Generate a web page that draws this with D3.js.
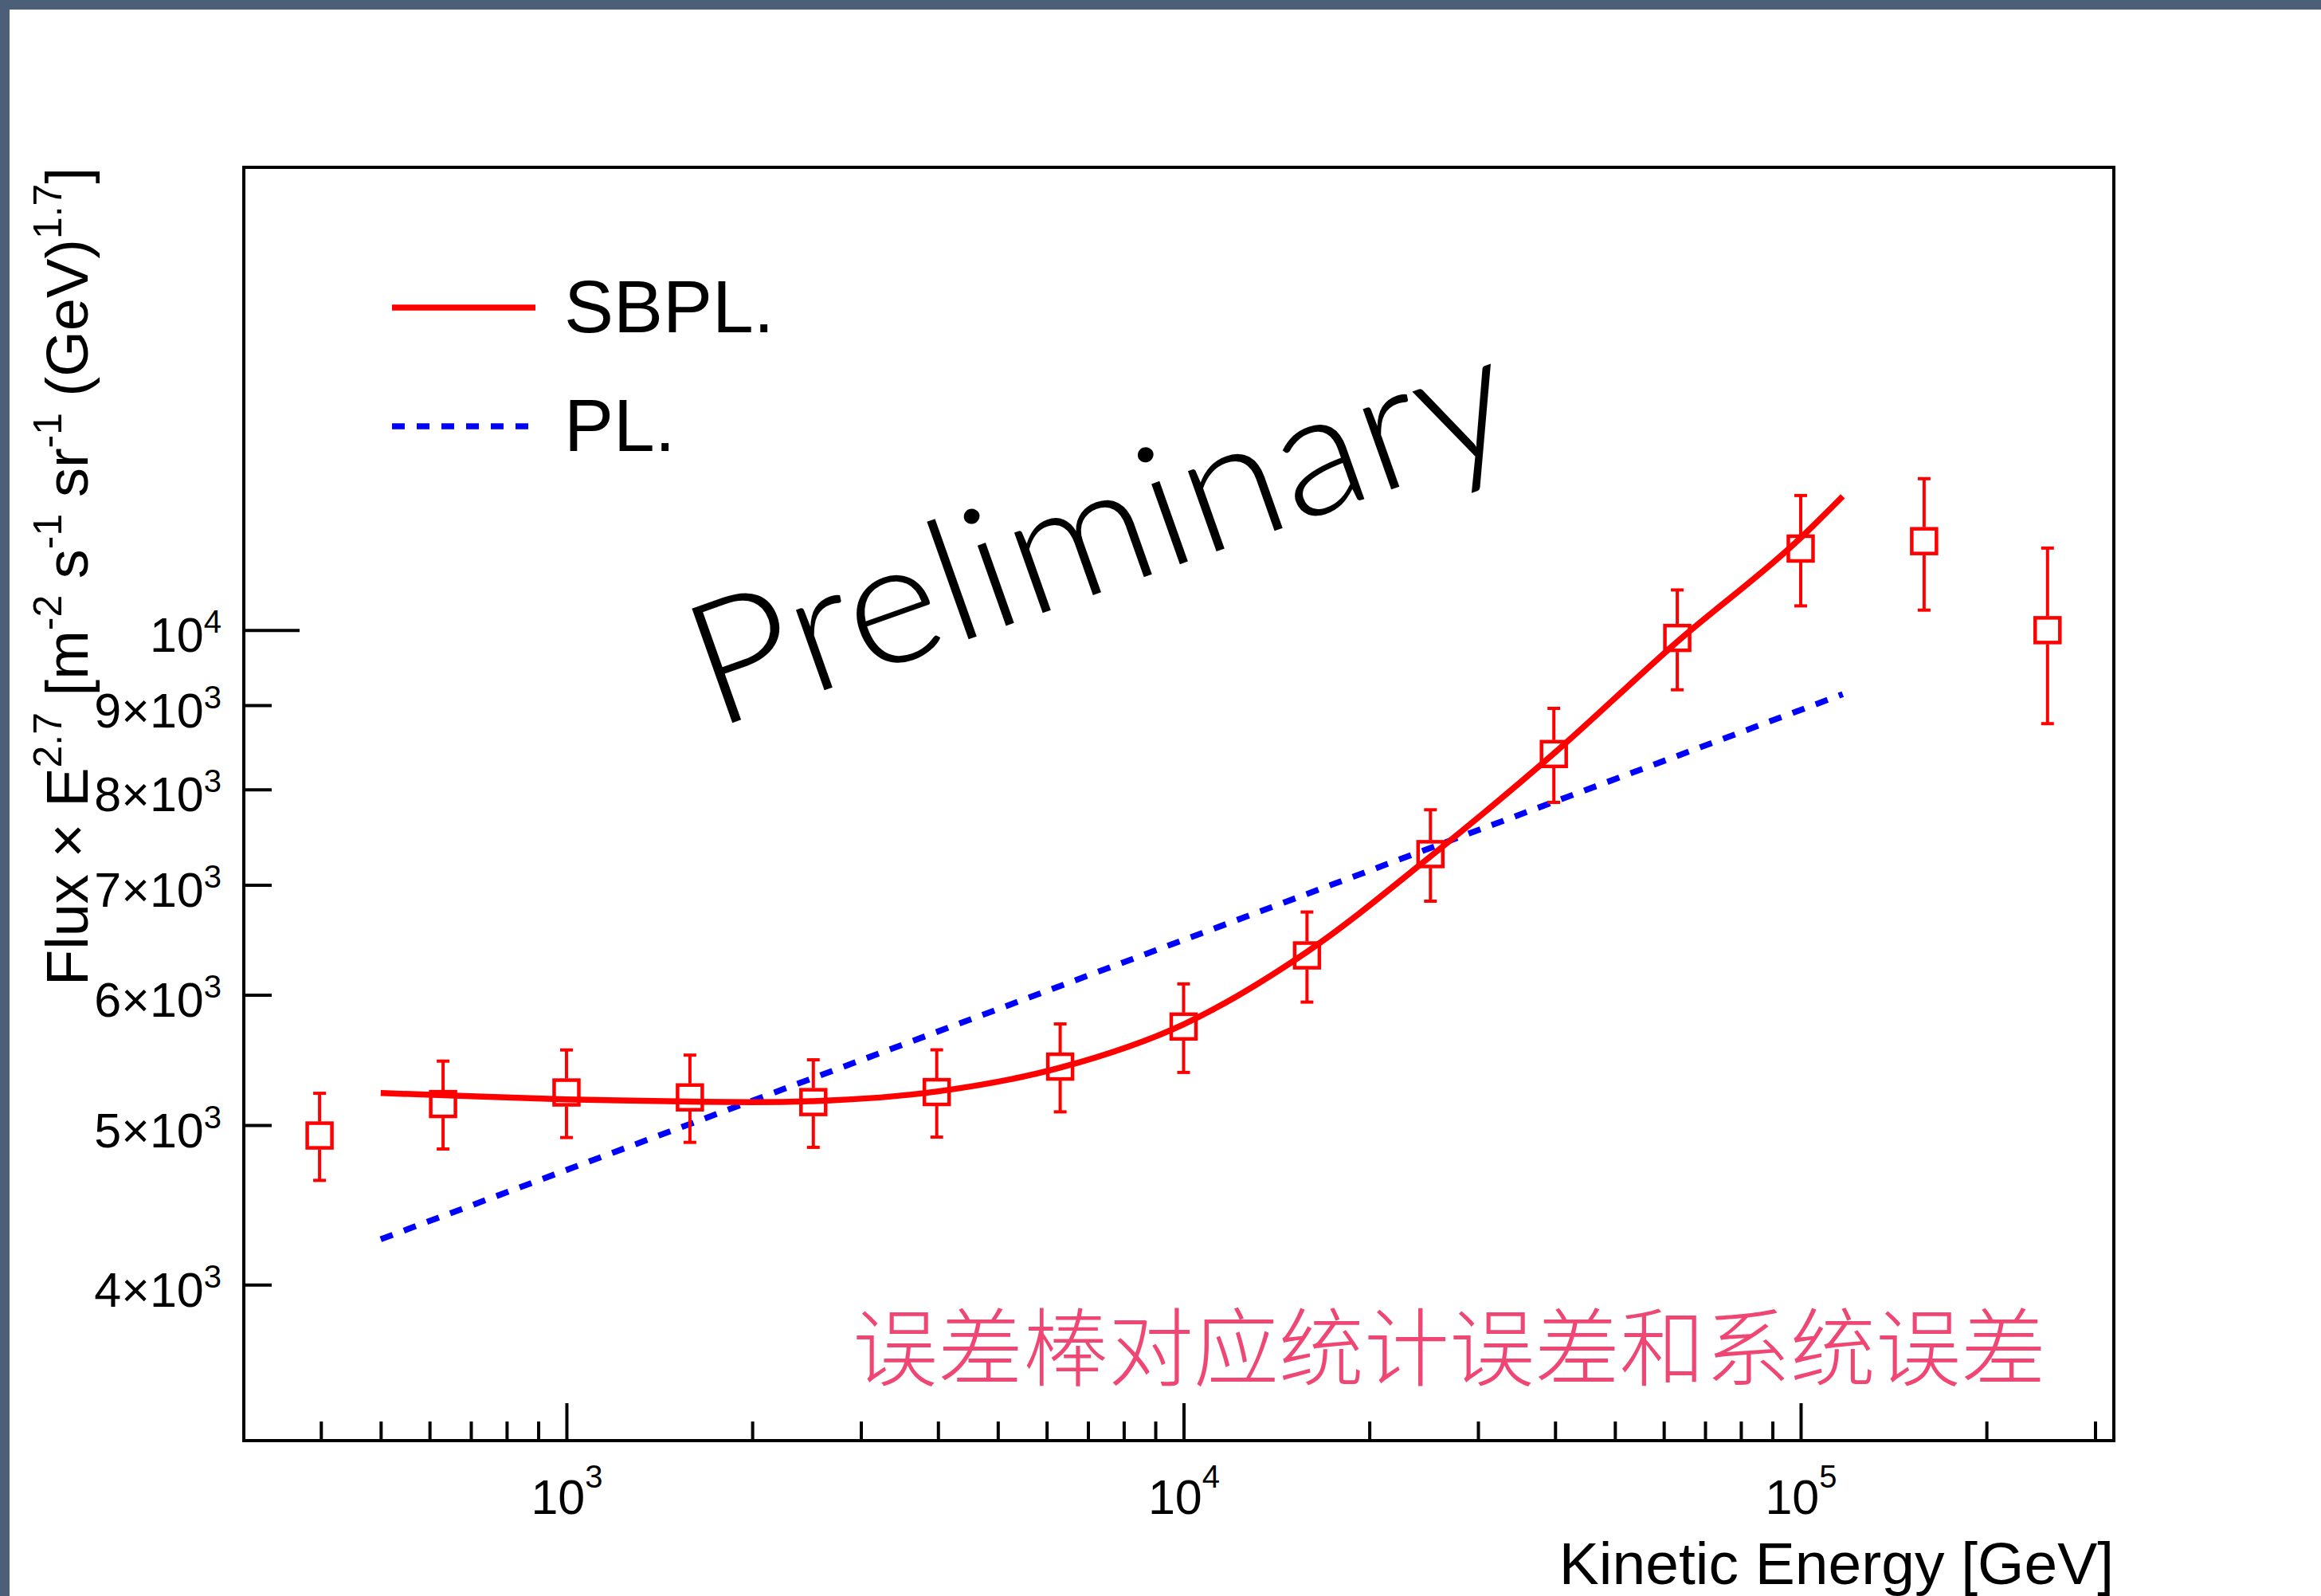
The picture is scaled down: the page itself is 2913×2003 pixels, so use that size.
<!DOCTYPE html>
<html><head><meta charset="utf-8">
<script src="https://cdn.jsdelivr.net/npm/d3@7"></script>
<style>html,body{margin:0;padding:0;background:#fff;} svg{display:block;} text{white-space:pre;}</style>
</head><body>
<script>
// ---------------- data ----------------
const energy   = [398, 631, 1000, 1585, 2512, 3981, 6310, 10000, 15849, 25119, 39811, 63096, 100000, 158489, 251189];
const flux     = [4928, 5150, 5234, 5198, 5164, 5237, 5427, 5740, 6341, 7307, 8406, 9889, 11207, 11324, 9997];
const fluxHigh = [5228, 5469, 5555, 5515, 5479, 5556, 5761, 6093, 6738, 7775, 8961, 10576, 12071, 12359, 11215];
const fluxLow  = [4628, 4836, 4914, 4881, 4847, 4917, 5094, 5383, 5940, 6841, 7856, 9197, 10343, 10282, 8771];

// SBPL fit curve
const sbplE = [500, 631, 1000, 1585, 2000, 2512, 3981, 6310, 10000, 15849, 25119, 39811, 63096, 100000, 117000];
const sbplF = [5230, 5214, 5183, 5167, 5163, 5171, 5241, 5419, 5758, 6373, 7283, 8412, 9837, 11376, 12058];
// PL fit (straight in log-log), end points
const plE = [500, 117000];
const plF = [4262, 9140];

const xMajorTicks = [1000, 10000, 100000];
const xMajorLabels = ["10^3", "10^4", "10^5"];
const xMinorTicks = [400,500,600,700,800,900, 2000,3000,4000,5000,6000,7000,8000,9000,
                     20000,30000,40000,50000,60000,70000,80000,90000, 200000,300000];
const yTicks = [4000, 5000, 6000, 7000, 8000, 9000, 10000];
const yTickLabels = ["4×10^3", "5×10^3", "6×10^3", "7×10^3", "8×10^3", "9×10^3", "10^4"];
const yMajorTicks = [10000];

const legendLabels = ["SBPL.", "PL."];
const xTitle = "Kinetic Energy [GeV]";
const yTitleParts = [["Flux × E",0],["2.7",1],[" [m",0],["-2",1],[" s",0],["-1",1],[" sr",0],["-1",1],[" (GeV)",0],["1.7",1],["]",0]];
const watermark = "Preliminary";
const note = "误差棒对应统计误差和系统误差";

// ---------------- drawing ----------------
const W = 2913, H = 2003;
const FONT = "'Liberation Sans', Arial, Helvetica, sans-serif";
const RED = "#ff0000", BLUE = "#0000ff";

const svg = d3.select("body").append("svg").attr("width", W).attr("height", H);
svg.append("rect").attr("width", W).attr("height", H).attr("fill", "#fff");
svg.append("rect").attr("x", 0).attr("y", 0).attr("width", W).attr("height", 12).attr("fill", "#4b6078");
svg.append("rect").attr("x", 0).attr("y", 0).attr("width", 12).attr("height", H).attr("fill", "#4b6078");

const L = 306, R = 2653, T = 210, B = 1808;
const x = d3.scaleLog().domain([300, 321700]).range([L, R]);
const y = d3.scaleLog().domain([3215, 19110]).range([B, T]);

function addSup(textSel, label, supSize, shift) {
  const parts = label.split("^");
  textSel.text(null);
  textSel.append("tspan").text(parts[0]);
  if (parts.length > 1) textSel.append("tspan").attr("dy", -shift).attr("font-size", supSize).text(parts[1]);
}

// X axis: minor ticks
svg.append("g").attr("transform", `translate(0,${B})`)
  .call(d3.axisBottom(x).tickValues(xMinorTicks).tickSize(-24).tickSizeOuter(0).tickFormat(() => ""))
  .call(g => g.select(".domain").remove())
  .call(g => g.selectAll(".tick line").attr("stroke", "#000").attr("stroke-width", 4));
// X axis: major ticks with labels
const gxM = svg.append("g").attr("transform", `translate(0,${B})`)
  .call(d3.axisBottom(x).tickValues(xMajorTicks).tickSize(-47).tickSizeOuter(0).tickPadding(92)
        .tickFormat((d, i) => xMajorLabels[i]))
  .call(g => g.select(".domain").remove())
  .call(g => g.selectAll(".tick line").attr("stroke", "#000").attr("stroke-width", 4));
gxM.selectAll(".tick text")
  .attr("dy", null).attr("fill", "#000")
  .attr("font-family", FONT).attr("font-size", 61)
  .each(function(d, i) { addSup(d3.select(this), xMajorLabels[i], 40, 33); });

// Y axis
const gy = svg.append("g").attr("transform", `translate(${L},0)`)
  .call(d3.axisLeft(y).tickValues(yTicks).tickSize(-35).tickSizeOuter(0).tickPadding(28)
        .tickFormat((d, i) => yTickLabels[i]))
  .call(g => g.select(".domain").remove());
gy.selectAll(".tick line").attr("stroke", "#000").attr("stroke-width", 4)
  .attr("x2", d => yMajorTicks.includes(d) ? 70 : 35);
gy.selectAll(".tick text")
  .attr("dy", 27).attr("fill", "#000")
  .attr("font-family", FONT).attr("font-size", 61)
  .each(function(d, i) { addSup(d3.select(this), yTickLabels[i], 40, 24); });

// Frame
svg.append("rect").attr("x", L).attr("y", T).attr("width", R - L).attr("height", B - T)
  .attr("fill", "none").attr("stroke", "#000").attr("stroke-width", 4);

// Axis titles
svg.append("text").attr("x", R).attr("y", 1988).attr("text-anchor", "end")
  .attr("font-family", FONT).attr("font-size", 75).attr("fill", "#000").text(xTitle);

const yt = svg.append("text").attr("transform", `translate(110,${T}) rotate(-90)`)
  .attr("text-anchor", "end").attr("font-family", FONT).attr("font-size", 74).attr("fill", "#000");
let prevSup = 0;
yTitleParts.forEach(([s, sup]) => {
  const ts = yt.append("tspan").text(s);
  if (sup) ts.attr("font-size", 50);
  if (sup !== prevSup) ts.attr("dy", sup ? -33 : 33);
  prevSup = sup;
});

// Fit curves
const pl = d3.range(plE.length).map(i => [plE[i], plF[i]]);
const sb = d3.range(sbplE.length).map(i => [sbplE[i], sbplF[i]]);
svg.append("path").datum(pl)
  .attr("d", d3.line().x(d => x(d[0])).y(d => y(d[1])))
  .attr("fill", "none").attr("stroke", BLUE).attr("stroke-width", 7.5).attr("stroke-dasharray", "16 15");
svg.append("path").datum(sb)
  .attr("d", d3.line().curve(d3.curveMonotoneX).x(d => x(d[0])).y(d => y(d[1])))
  .attr("fill", "none").attr("stroke", RED).attr("stroke-width", 7.5);

// Data points with error bars
const pts = d3.range(energy.length).map(i => ({e: energy[i], f: flux[i], hi: fluxHigh[i], lo: fluxLow[i]}));
const HB = 17.5; // half outer box size
const gp = svg.append("g").attr("stroke", RED).attr("fill", "none");
const p = gp.selectAll("g").data(pts).join("g");
p.append("line").attr("x1", d => x(d.e)).attr("x2", d => x(d.e))
  .attr("y1", d => y(d.hi)).attr("y2", d => y(d.f) - HB).attr("stroke-width", 4);
p.append("line").attr("x1", d => x(d.e)).attr("x2", d => x(d.e))
  .attr("y1", d => y(d.f) + HB).attr("y2", d => y(d.lo)).attr("stroke-width", 4);
p.append("line").attr("x1", d => x(d.e) - 8).attr("x2", d => x(d.e) + 8)
  .attr("y1", d => y(d.hi)).attr("y2", d => y(d.hi)).attr("stroke-width", 4);
p.append("line").attr("x1", d => x(d.e) - 8).attr("x2", d => x(d.e) + 8)
  .attr("y1", d => y(d.lo)).attr("y2", d => y(d.lo)).attr("stroke-width", 4);
p.append("rect").attr("x", d => x(d.e) - 15.5).attr("y", d => y(d.f) - 15.5)
  .attr("width", 31).attr("height", 31).attr("stroke-width", 4.5);

// Legend
const legY = [386, 535];
const lg = svg.append("g");
lg.append("line").attr("x1", 492).attr("x2", 672).attr("y1", legY[0]).attr("y2", legY[0])
  .attr("stroke", RED).attr("stroke-width", 7.5);
lg.append("line").attr("x1", 492).attr("x2", 668).attr("y1", legY[1]).attr("y2", legY[1])
  .attr("stroke", BLUE).attr("stroke-width", 7.5).attr("stroke-dasharray", "16 15");
legendLabels.forEach((t, i) => {
  lg.append("text").attr("x", 708).attr("y", legY[i] + 31)
    .attr("font-family", FONT).attr("font-size", 93).attr("fill", "#000").text(t);
});

// Watermark
svg.append("text").attr("transform", "translate(897,915) rotate(-19.5)")
  .attr("font-family", "Lato, 'Open Sans', sans-serif").attr("font-weight", 300)
  .attr("font-size", 215).attr("fill", "#000")
  .attr("textLength", 1075).attr("lengthAdjust", "spacingAndGlyphs")
  .text(watermark);

// Note
svg.append("text").attr("x", 2568).attr("y", 1731).attr("text-anchor", "end")
  .attr("font-family", "'Noto Sans CJK SC', sans-serif").attr("font-weight", 300)
  .attr("font-size", 107).attr("fill", "#ef4673").text(note);
</script>
</body></html>
